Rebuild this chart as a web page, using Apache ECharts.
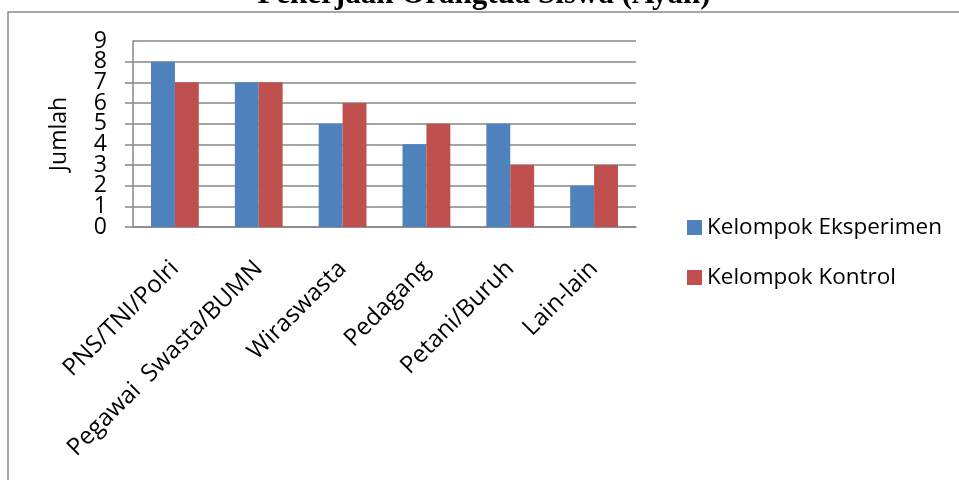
<!DOCTYPE html>
<html>
<head>
<meta charset="utf-8">
<script src="https://cdn.jsdelivr.net/npm/echarts@6/dist/echarts.min.js"></script>
<style>
  html, body { margin: 0; padding: 0; background: #fff; }
  #chart { width: 959px; height: 480px; }
</style>
</head>
<body>
<div id="chart"></div>
<script>
// Occupation of students' fathers, per group
const categories = ['PNS/TNI/Polri', 'Pegawai  Swasta/BUMN', 'Wiraswasta', 'Pedagang', 'Petani/Buruh', 'Lain-lain'];
const eksperimen = [8, 7, 5, 4, 5, 2];
const kontrol = [7, 7, 6, 5, 3, 3];
const yTicks = { min: 0, max: 9, interval: 1 };
const titleText = 'Pekerjaan Orangtua Siswa (Ayah)';

const gridColor = '#878787';
const sansFont = '"Open Sans", "Noto Sans", sans-serif';

// The tick labels are tall relative to their spacing, so even and odd
// values are written by two overlaid value axes to keep every label shown.
const labelStyle = { margin: 26, fontFamily: sansFont, fontSize: 23, color: '#000' };

const chart = echarts.init(document.getElementById('chart'), null, { renderer: 'canvas' });

chart.setOption({
  backgroundColor: '#ffffff',
  animation: false,
  graphic: [
    {
      type: 'rect',
      shape: { x: 8, y: 12, width: 1000, height: 1000 },
      style: { fill: 'none', stroke: '#8a8a8a', lineWidth: 1.5 },
      z: 0
    },
    {
      type: 'text',
      x: 484,
      y: -5.5,
      style: {
        text: titleText,
        font: 'bold 31px "Liberation Serif", "Times New Roman", serif',
        fill: '#000',
        textAlign: 'center',
        textVerticalAlign: 'middle',
        align: 'center',
        verticalAlign: 'middle'
      },
      z: 10
    }
  ],
  grid: { left: 133, right: 323, top: 41, bottom: 253, containLabel: false },
  legend: {
    orient: 'vertical',
    left: 682,
    top: 211,
    itemWidth: 15,
    itemHeight: 15,
    itemGap: 27,
    icon: 'rect',
    textStyle: { fontFamily: sansFont, fontSize: 22.5, color: '#000' },
    data: ['Kelompok Eksperimen', 'Kelompok Kontrol']
  },
  xAxis: {
    type: 'category',
    data: categories,
    axisLine: { lineStyle: { color: gridColor, width: 1.5 } },
    axisTick: { show: false },
    axisLabel: {
      rotate: 45,
      interval: 0,
      margin: 38,
      fontFamily: sansFont,
      fontSize: 24,
      color: '#000'
    }
  },
  yAxis: [
    {
      type: 'value',
      position: 'left',
      min: yTicks.min,
      max: yTicks.max,
      interval: yTicks.interval,
      name: 'Jumlah',
      nameLocation: 'middle',
      nameRotate: 90,
      nameGap: 62,
      nameTextStyle: { fontFamily: sansFont, fontSize: 23, color: '#000' },
      axisLine: { show: true, lineStyle: { color: gridColor, width: 1.5 } },
      axisTick: { show: true, length: 8, lineStyle: { color: gridColor, width: 1.5 } },
      axisLabel: Object.assign({}, labelStyle, {
        showMinLabel: true,
        showMaxLabel: false,
        formatter: v => (v % 2 === 0 ? String(v) : '')
      }),
      splitLine: { show: true, lineStyle: { color: gridColor, width: 1.5 } }
    },
    {
      type: 'value',
      position: 'left',
      offset: 0,
      min: yTicks.min,
      max: yTicks.max,
      interval: yTicks.interval,
      axisLine: { show: false },
      axisTick: { show: false },
      splitLine: { show: false },
      axisLabel: Object.assign({}, labelStyle, {
        showMinLabel: false,
        showMaxLabel: true,
        formatter: v => (v % 2 === 1 ? String(v) : '')
      })
    }
  ],
  series: [
    {
      name: 'Kelompok Eksperimen',
      type: 'bar',
      yAxisIndex: 0,
      data: eksperimen,
      barGap: '0%',
      barCategoryGap: '43%',
      itemStyle: { color: '#4F81BD' }
    },
    {
      name: 'Kelompok Kontrol',
      type: 'bar',
      yAxisIndex: 0,
      data: kontrol,
      barGap: '0%',
      barCategoryGap: '43%',
      itemStyle: { color: '#C0504D' }
    }
  ]
});
</script>
</body>
</html>
